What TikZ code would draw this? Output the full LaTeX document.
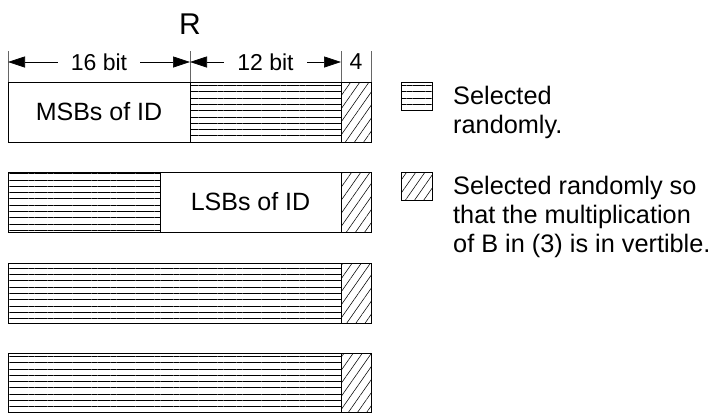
\documentclass[tikz,border=0pt]{standalone}
\usepackage{fontspec}
\setmainfont{Liberation Sans}
\usetikzlibrary{arrows.meta, positioning, patterns.meta, calc}

\tikzset{
  seg/.style={draw, line width=0.9pt, inner sep=0pt, outer sep=0pt,
              minimum height=60pt, anchor=north west,
              font=\fontsize{25}{29}\selectfont},
  rnd/.style={seg, pattern={Lines[angle=0, distance=6.3pt, line width=0.7pt]}},
  inv/.style={seg, pattern={Lines[angle=55, distance=7.5pt, line width=0.55pt]}},
  dim/.style={{Triangle[length=17pt,width=11pt]}-{Triangle[length=17pt,width=11pt]},
              line width=0.6pt},
  ext/.style={line width=0.6pt, draw=black!60},
  dimlbl/.style={fill=white, inner xsep=13pt, inner ysep=3pt,
                 font=\fontsize{23}{26}\selectfont},
  legtxt/.style={inner sep=0pt, align=left, anchor=north west,
                 font=\fontsize{25.3}{29}\selectfont},
}

\begin{document}
\begin{tikzpicture}[x=1pt, y=-1pt]
  \useasboundingbox (0,0) rectangle (712,413);

  \node[font=\fontsize{30}{32}\selectfont] (title) at (190,24) {R};

  % row 1
  \node[seg, minimum width=182pt] (r1a) at (8,82) {MSBs of ID};
  \node[rnd, minimum width=151pt, right=0pt of r1a] (r1b) {};
  \node[inv, minimum width=30pt, right=0pt of r1b] (r1c) {};
  % row 2
  \node[rnd, minimum width=152pt] (r2a) at (8,172) {};
  \node[seg, minimum width=181pt, right=0pt of r2a] (r2b) {LSBs of ID};
  \node[inv, minimum width=30pt, right=0pt of r2b] (r2c) {};
  % rows 3 and 4
  \node[rnd, minimum width=333pt] (r3a) at (8,263) {};
  \node[inv, minimum width=30pt, right=0pt of r3a] (r3c) {};
  \node[rnd, minimum width=333pt, minimum height=59pt] (r4a) at (8,353) {};
  \node[inv, minimum width=30pt, minimum height=59pt, right=0pt of r4a] (r4c) {};

  % widths above row 1
  \coordinate (e0) at ([yshift=31pt]r1a.north west);
  \coordinate (e1) at ([yshift=31pt]r1b.north west);
  \coordinate (e2) at ([yshift=31pt]r1c.north west);
  \coordinate (e3) at ([yshift=31pt]r1c.north east);
  \foreach \e/\r in {e0/r1a.north west, e1/r1b.north west,
                     e2/r1c.north west, e3/r1c.north east}
    \draw[ext] (\e) -- (\r);
  \draw[dim] ([yshift=-11pt]e0) -- node[dimlbl] {16 bit} ([yshift=-11pt]e1);
  \draw[dim] ([yshift=-11pt]e1) -- node[dimlbl] {12 bit} ([yshift=-11pt]e2);
  \node[dimlbl, fill=none, inner xsep=0pt] (w4)
      at ($([yshift=-11pt]e2)!0.5!([yshift=-11pt]e3)$) {4};

  % legend
  \node[rnd, minimum width=31pt, minimum height=28pt] (keyr) at (401,82) {};
  \node[inv, minimum width=31pt, minimum height=28pt] (keyi) at (401,172) {};
  \node[legtxt] (keyrtxt) at ([xshift=21pt,yshift=-4pt]keyr.north east)
      {Selected\\randomly.};
  \node[legtxt] (keyitxt) at ([xshift=21pt,yshift=-4pt]keyi.north east)
      {Selected randomly so\\that the multiplication\\of B in (3) is in vertible.};
\end{tikzpicture}
\end{document}
